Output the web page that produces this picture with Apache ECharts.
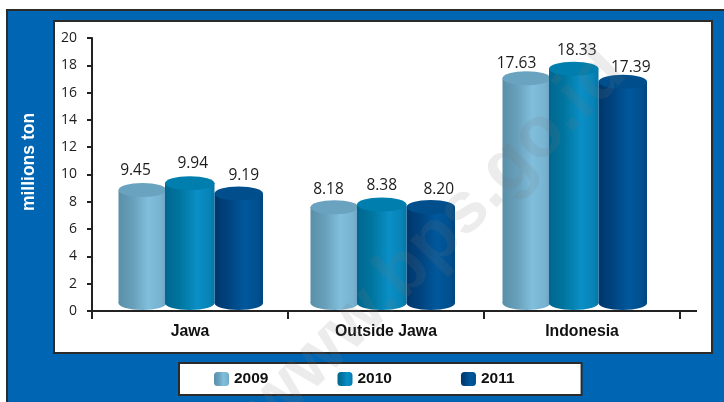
<!DOCTYPE html>
<html>
<head>
<meta charset="utf-8">
<style>html,body{margin:0;padding:0;background:#fff}#chart{width:724px;height:402px}</style>
<script src="https://cdn.jsdelivr.net/npm/echarts@6/dist/echarts.min.js"></script>
</head>
<body>
<div id="chart"></div>
<script>
// Production by region, in millions of tons
const categories = ['Jawa', 'Outside Jawa', 'Indonesia'];
const years = ['2009', '2010', '2011'];
const values2009 = [9.45, 8.18, 17.63];
const values2010 = [9.94, 8.38, 18.33];
const values2011 = [9.19, 8.20, 17.39];
const yTicks = [0, 2, 4, 6, 8, 10, 12, 14, 16, 18, 20];

// Cylinder appearance for each year
const bodyStops = [
  [[0, '#5a8fa8'], [0.3, '#689fba'], [0.62, '#80bedc'], [0.88, '#78b4d2'], [1, '#6ca3c1']],
  [[0, '#00678f'], [0.3, '#00759f'], [0.65, '#0a8fc6'], [0.9, '#0783b7'], [1, '#0675a6']],
  [[0, '#00366b'], [0.3, '#004480'], [0.62, '#00589c'], [0.9, '#004f8e'], [1, '#00447e']]
];
const capColors = ['#6aa3bf', '#007fae', '#004f8c'];
const seriesZ = [2, 4, 3];
const barSpan = [[-71, -23], [-24.5, 25], [25, 73.5]];
const capDrop = 8;      // 3D look: the cap sits just below the value's gridline
const floorLift = 8;    // and the base floats just above the axis
const capRy = 7;
// Per-bar placement of the value labels relative to the bar
const labelDx = [[-7, -6, -10], [3, 0, 3], [5, 8, 8]];
const labelDy = [[-19, -18, -15], [-20, -19, -18], [-18, -17, -14]];

const gradient = i => ({
  type: 'linear', x: 0, y: 0, x2: 1, y2: 0,
  colorStops: bodyStops[i].map(s => ({ offset: s[0], color: s[1] }))
});

const allValues = [values2009, values2010, values2011];

function renderCylinder(seriesIndex) {
  return function (params, api) {
    const cat = api.value(0);
    const v = api.value(1);
    const top = api.coord([cat, v]);
    const zero = api.coord([cat, 0]);
    const x0 = top[0] + barSpan[seriesIndex][0];
    const x1 = top[0] + barSpan[seriesIndex][1];
    const cx = (x0 + x1) / 2;
    const rx = (x1 - x0) / 2;
    const yTop = top[1] + capDrop;
    const yBase = zero[1] - floorLift;
    const fill = gradient(seriesIndex);
    return {
      type: 'group',
      children: [
        { type: 'ellipse', shape: { cx: cx, cy: yBase, rx: rx, ry: capRy }, style: { fill: fill } },
        { type: 'rect', shape: { x: x0, y: yTop, width: x1 - x0, height: yBase - yTop }, style: { fill: fill } },
        { type: 'ellipse', shape: { cx: cx, cy: yTop, rx: rx, ry: capRy }, style: { fill: capColors[seriesIndex] } },
        {
          type: 'text', z2: 20,
          style: {
            x: cx + labelDx[seriesIndex][cat], y: yTop + labelDy[seriesIndex][cat],
            text: v.toFixed(2), align: 'center', verticalAlign: 'middle',
            fill: '#1c1c1c', font: '15.5px "Open Sans"'
          }
        }
      ]
    };
  };
}

const cylinderSeries = years.map((year, i) => ({
  type: 'custom',
  name: year,
  xAxisIndex: 1,
  yAxisIndex: 1,
  z: seriesZ[i],
  clip: false,
  silent: true,
  renderItem: renderCylinder(i),
  encode: { x: 0, y: 1 },
  data: allValues[i].map((v, c) => [c, v])
}));

const chart = echarts.init(document.getElementById('chart'), null, { renderer: 'canvas' });
const AXIS = '#222';
chart.setOption({
  animation: false,
  backgroundColor: '#fff',
  graphic: [
    // Blue frame, white plot panel
    { type: 'rect', z: -10, shape: { x: 7, y: 10, width: 730, height: 400 },
      style: { fill: '#0066b3', stroke: '#2b2b2b', lineWidth: 2 } },
    { type: 'rect', z: -9, shape: { x: 54, y: 21, width: 658, height: 332 },
      style: { fill: '#fff', stroke: '#2b2b2b', lineWidth: 2 } },
    { type: 'text', z: -8, x: 29, y: 162, rotation: Math.PI / 2,
      style: { text: 'millions ton', align: 'center', verticalAlign: 'middle',
        fill: '#fff', font: 'bold 17.5px "Liberation Sans"' } },
    // Tail of the category axis past the last tick
    { type: 'line', z: 1, shape: { x1: 680, y1: 311, x2: 697, y2: 311 },
      style: { stroke: AXIS, lineWidth: 2 } },
    // Publisher's site mark across the chart
    { type: 'text', z: 100, silent: true, x: 436, y: 240, rotation: Math.PI / 4,
      style: { text: 'www.bps.go.id', align: 'center', verticalAlign: 'middle',
        fill: 'rgba(120,120,120,0.14)', font: 'bold 72px "Liberation Sans"' } }
  ],
  grid: [
    { left: 92, top: 38, width: 588, height: 273 },
    { left: 93.5, top: 38, width: 576, height: 273 }
  ],
  xAxis: [
    {
      type: 'category', gridIndex: 0, data: categories,
      axisLine: { lineStyle: { color: AXIS, width: 2 } },
      axisTick: { show: true, alignWithLabel: false, length: 8, lineStyle: { color: AXIS, width: 2 } },
      axisLabel: { color: '#111', margin: 13,
        fontFamily: '"Liberation Sans"', fontWeight: 'bold', fontSize: 15.8 },
      splitLine: { show: false }
    },
    { type: 'category', gridIndex: 1, data: categories, show: false }
  ],
  yAxis: [
    {
      type: 'value', gridIndex: 0, min: yTicks[0], max: yTicks[yTicks.length - 1], interval: yTicks[1] - yTicks[0],
      axisLine: { show: true, lineStyle: { color: AXIS, width: 2 } },
      axisTick: { show: true, length: 5, lineStyle: { color: AXIS, width: 2 } },
      axisLabel: { color: '#1c1c1c', margin: 15, fontFamily: '"Open Sans"', fontSize: 14 },
      splitLine: { show: false }
    },
    {
      type: 'value', gridIndex: 1, min: yTicks[0], max: yTicks[yTicks.length - 1], show: false,
      splitLine: { show: false }
    }
  ],
  legend: {
    left: 179, top: 363,
    orient: 'horizontal',
    backgroundColor: '#fff',
    borderColor: '#2b2b2b',
    borderWidth: 2,
    padding: [8, 67, 8, 35],
    itemWidth: 15, itemHeight: 14, itemGap: 69,
    selectedMode: false,
    textStyle: { color: '#111', fontFamily: '"Liberation Sans"', fontWeight: 'bold', fontSize: 15.5 },
    data: years.map((y, i) => ({ name: y, icon: 'roundRect', itemStyle: { color: gradient(i) } }))
  },
  series: cylinderSeries
});
</script>
</body>
</html>
